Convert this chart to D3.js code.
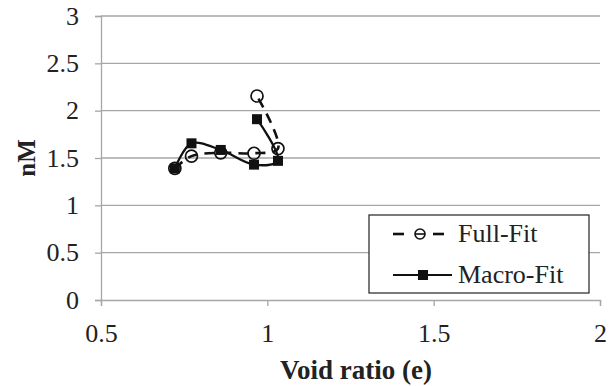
<!DOCTYPE html>
<html>
<head>
<meta charset="utf-8">
<script src="https://cdn.jsdelivr.net/npm/d3@7"></script>
<style>
  html, body { margin: 0; padding: 0; background: #fff; }
  svg { display: block; }
  text { font-family: "Liberation Serif", "Times New Roman", serif; fill: #222; }
</style>
</head>
<body>
<svg id="chart" width="616" height="386"></svg>
<script>
// Void ratio (e) for each test, and nM from the two fitting approaches
const voidRatio = [0.722, 0.772, 0.860, 0.960, 1.032, 0.969];
const fullFit   = [1.39, 1.52, 1.555, 1.55, 1.60, 2.155];
const macroFit  = [1.39, 1.655, 1.585, 1.43, 1.47, 1.91];
const xTicks = [0.5, 1, 1.5, 2];
const yTicks = [0, 0.5, 1, 1.5, 2, 2.5, 3];
const seriesNames = ["Full-Fit", "Macro-Fit"];

const svg = d3.select("#chart");
const plot = { left: 101, right: 600, top: 16, bottom: 300 };

const x = d3.scaleLinear().domain([0.5, 2]).range([plot.left, plot.right]);
const y = d3.scaleLinear().domain([0, 3]).range([plot.bottom, plot.top]);

const gridColor = "#a6a6a6";
const ink = "#111";

// horizontal gridlines
svg.append("g").selectAll("line").data(yTicks.filter(d => d > 0)).join("line")
  .attr("x1", plot.left).attr("x2", plot.right)
  .attr("y1", d => y(d)).attr("y2", d => y(d))
  .attr("stroke", gridColor).attr("stroke-width", 1.3);

// y axis
const yAxis = svg.append("g").attr("transform", `translate(${plot.left},0)`)
  .call(d3.axisLeft(y).tickValues(yTicks).tickSize(6).tickPadding(16).tickFormat(d3.format("")));
// x axis
const xAxis = svg.append("g").attr("transform", `translate(0,${plot.bottom})`)
  .call(d3.axisBottom(x).tickValues(xTicks).tickSize(6).tickPadding(18).tickFormat(d3.format("")));

[yAxis, xAxis].forEach(g => {
  g.select(".domain").attr("stroke", gridColor).attr("stroke-width", 1.3);
  g.selectAll(".tick line").attr("stroke", gridColor).attr("stroke-width", 1.3);
  g.selectAll(".tick text")
    .attr("font-family", "Liberation Serif, serif")
    .attr("font-size", 26).attr("fill", "#222");
});

// axis titles
svg.append("text").attr("x", 356).attr("y", 379)
  .attr("text-anchor", "middle").attr("font-weight", "bold").attr("font-size", 27)
  .text("Void ratio (e)");
svg.append("text").attr("transform", "translate(35,158) rotate(-90)")
  .attr("text-anchor", "middle").attr("font-weight", "bold").attr("font-size", 25)
  .text("nM");

const line = d3.line().curve(d3.curveCatmullRom.alpha(0.5))
  .x(d => x(d[0])).y(d => y(d[1]));

const fullPts = voidRatio.map((v, i) => [v, fullFit[i]]);
const macroPts = voidRatio.map((v, i) => [v, macroFit[i]]);

// Full-Fit series: dashed line, open circles
svg.append("path").attr("d", line(fullPts))
  .attr("fill", "none").attr("stroke", ink).attr("stroke-width", 2.6)
  .attr("stroke-dasharray", "10,7");
svg.append("g").selectAll("circle").data(fullPts).join("circle")
  .attr("cx", d => x(d[0])).attr("cy", d => y(d[1])).attr("r", 6)
  .attr("fill", "none").attr("stroke", ink).attr("stroke-width", 1.7);

// Macro-Fit series: solid line, filled squares
svg.append("path").attr("d", line(macroPts))
  .attr("fill", "none").attr("stroke", ink).attr("stroke-width", 2.3);
svg.append("g").selectAll("rect").data(macroPts).join("rect")
  .attr("x", d => x(d[0]) - 5).attr("y", d => y(d[1]) - 5)
  .attr("width", 10).attr("height", 10).attr("fill", ink);

// legend
const lg = svg.append("g");
lg.append("rect").attr("x", 369).attr("y", 215).attr("width", 220).attr("height", 78)
  .attr("fill", "#fff").attr("stroke", "#333").attr("stroke-width", 1.3);
const rows = [234, 275];
seriesNames.forEach((name, i) => {
  const cy = rows[i];
  if (i === 0) {
    [[393, 404], [433, 444]].forEach(([a, b]) =>
      lg.append("line").attr("x1", a).attr("x2", b).attr("y1", cy).attr("y2", cy)
        .attr("stroke", ink).attr("stroke-width", 2.6));
    lg.append("circle").attr("cx", 420).attr("cy", cy).attr("r", 5)
      .attr("fill", "#fff").attr("stroke", ink).attr("stroke-width", 1.6);
    lg.append("line").attr("x1", 415).attr("x2", 425).attr("y1", cy).attr("y2", cy)
      .attr("stroke", ink).attr("stroke-width", 1.6);
  } else {
    lg.append("line").attr("x1", 393).attr("x2", 452).attr("y1", cy).attr("y2", cy)
      .attr("stroke", ink).attr("stroke-width", 2.2);
    lg.append("rect").attr("x", 418).attr("y", cy - 5).attr("width", 10).attr("height", 10)
      .attr("fill", ink);
  }
  lg.append("text").attr("x", 458).attr("y", cy + 8).attr("font-size", 26).text(name);
});
</script>
</body>
</html>
